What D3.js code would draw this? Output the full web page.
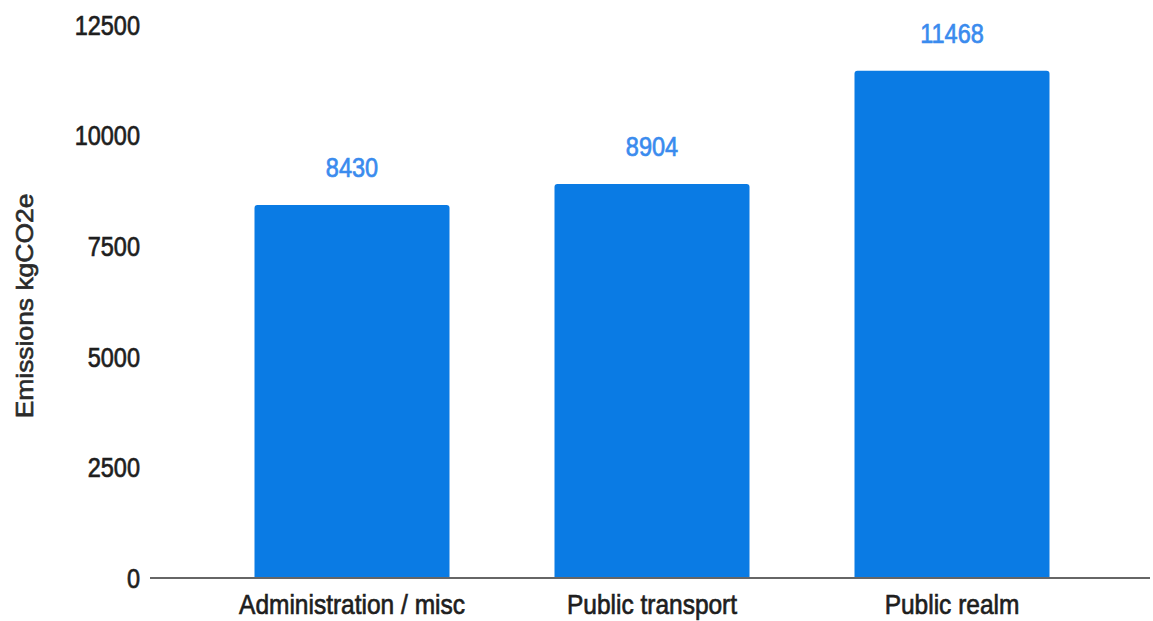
<!DOCTYPE html>
<html>
<head>
<meta charset="utf-8">
<script src="https://cdn.jsdelivr.net/npm/d3@7/dist/d3.min.js"></script>
<style>
  html, body { margin: 0; padding: 0; background: #fff; }
  svg { display: block; font-family: "Liberation Sans", Arial, Helvetica, sans-serif; }
  text { stroke-width: 0.6px; paint-order: stroke; }
</style>
</head>
<body>
<svg id="chart" width="1153" height="621"></svg>
<script>
// Emissions by category (kgCO2e)
const categories = ["Administration / misc", "Public transport", "Public realm"];
const emissions = [8430, 8904, 11468];
const yTicks = [0, 2500, 5000, 7500, 10000, 12500];
const yTitle = "Emissions kgCO2e";

const svg = d3.select("#chart");
const baseY = 578, topY = 25;

const x = d3.scaleBand()
  .domain(categories)
  .range([202, 1102])
  .paddingInner(0.35)
  .paddingOuter(0.175);

const y = d3.scaleLinear().domain([0, 12500]).range([baseY, topY]);

const stretch = 1.15; // glyphs are slightly taller than wide

// y tick labels
svg.append("g").selectAll("text")
  .data(yTicks)
  .join("text")
  .attr("transform", d => `translate(140,${y(d)}) scale(1,${stretch})`)
  .attr("text-anchor", "end")
  .attr("dy", "0.36em")
  .attr("font-size", 23.5)
  .attr("fill", "#1e1e1e")
  .attr("stroke", "#1e1e1e")
  .text(d => d);

// y axis title
svg.append("text")
  .attr("transform", `translate(33,306) rotate(-90) scale(${stretch},1)`)
  .attr("text-anchor", "middle")
  .attr("font-size", 23)
  .attr("fill", "#2a2a2a")
  .attr("stroke", "#2a2a2a")
  .text(yTitle);

// bars with slightly rounded top corners
const r = 3;
svg.append("g").selectAll("path")
  .data(categories.map((c, i) => ({ c, v: emissions[i] })))
  .join("path")
  .attr("fill", "#0a7be4")
  .attr("d", d => {
    const x0 = x(d.c), x1 = x0 + x.bandwidth(), yt = y(d.v), yb = y(0);
    return `M${x0},${yb}V${yt + r}Q${x0},${yt} ${x0 + r},${yt}H${x1 - r}Q${x1},${yt} ${x1},${yt + r}V${yb}Z`;
  });

// value labels
svg.append("g").selectAll("text")
  .data(categories.map((c, i) => ({ c, v: emissions[i] })))
  .join("text")
  .attr("transform", d => `translate(${x(d.c) + x.bandwidth() / 2},${y(d.v) - 28}) scale(1,${stretch})`)
  .attr("text-anchor", "middle")
  .attr("font-size", 23.5)
  .attr("fill", "#3a8bee")
  .attr("stroke", "#3a8bee")
  .text(d => d.v);

// baseline
svg.append("line")
  .attr("x1", 150).attr("x2", 1150)
  .attr("y1", y(0)).attr("y2", y(0))
  .attr("stroke", "#666")
  .attr("stroke-width", 2);

// category labels
svg.append("g").selectAll("text")
  .data(categories)
  .join("text")
  .attr("transform", d => `translate(${x(d) + x.bandwidth() / 2},614) scale(1,${stretch})`)
  .attr("text-anchor", "middle")
  .attr("font-size", 24.5)
  .attr("fill", "#1e1e1e")
  .attr("stroke", "#1e1e1e")
  .text(d => d);
</script>
</body>
</html>
